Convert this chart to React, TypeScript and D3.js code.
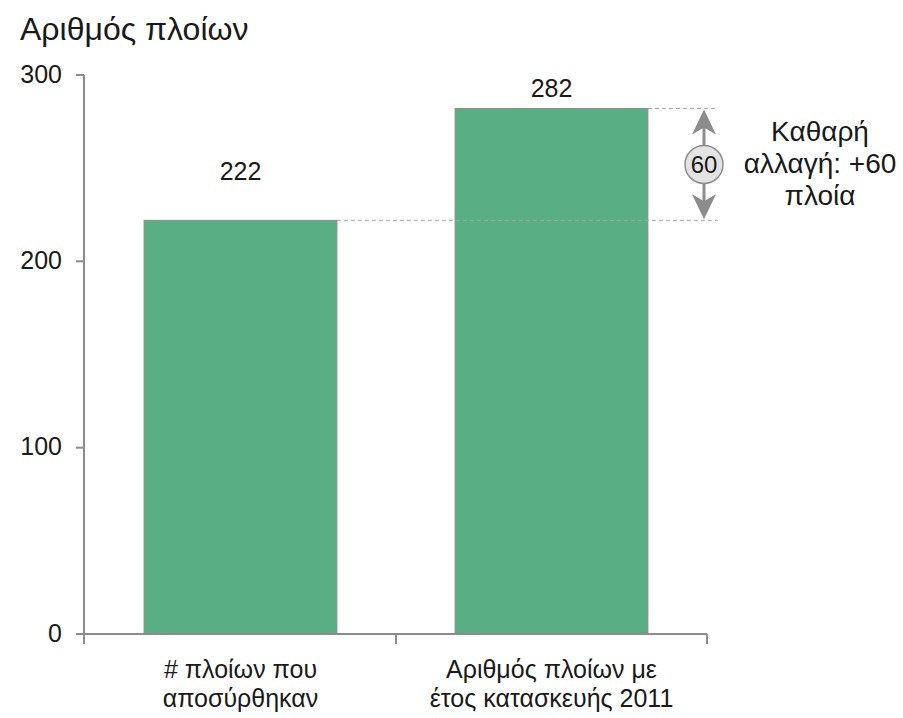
import React, { useEffect, useRef } from "react";
import * as d3 from "d3";

const categories = ["# πλοίων που|αποσύρθηκαν", "Αριθμός πλοίων με|έτος κατασκευής 2011"];
const values = [222, 282];
const yTicks = [0, 100, 200, 300];
const title = "Αριθμός πλοίων";
const noteLines = ["Καθαρή", "αλλαγή: +60", "πλοία"];

export default function App() {
  const ref = useRef<SVGSVGElement>(null);
  const width = 903;
  const height = 718;
  const font = "Liberation Sans, Arial, sans-serif";

  useEffect(() => {
    const svg = d3.select(ref.current);
    svg.selectAll("*").remove();

    const x = d3.scaleBand().domain(categories).range([85, 707]).paddingInner(0.38).paddingOuter(0.19);
    const y = d3.scaleLinear().domain([0, 300]).range([634, 75]);

    svg
      .append("text")
      .attr("x", 20)
      .attr("y", 40)
      .attr("font-size", 32)
      .attr("font-family", font)
      .attr("fill", "#1a1a1a")
      .text(title);

    // y axis
    const gy = svg.append("g").attr("transform", "translate(84,0)");
    gy.append("line").attr("y1", y(300)).attr("y2", y(0)).attr("stroke", "#8c8c8c").attr("stroke-width", 2);
    yTicks.forEach((t) => {
      gy.append("line").attr("x1", -8).attr("x2", 0).attr("y1", y(t)).attr("y2", y(t)).attr("stroke", "#8c8c8c").attr("stroke-width", 2);
      gy.append("text")
        .attr("x", -22)
        .attr("y", y(t))
        .attr("dy", "0.3em")
        .attr("text-anchor", "end")
        .attr("font-size", 25)
        .attr("font-family", font)
        .attr("fill", "#1a1a1a")
        .text(t);
    });

    // bars
    const bw = x.bandwidth();
    const labelGap = [40, 12];
    categories.forEach((c, i) => {
      svg
        .append("rect")
        .attr("x", x(c)!)
        .attr("y", y(values[i]))
        .attr("width", bw)
        .attr("height", y(0) - y(values[i]))
        .attr("fill", "#5aae84")
        .attr("stroke", "#8c8c8c")
        .attr("stroke-width", 1);
      svg
        .append("text")
        .attr("x", x(c)! + bw / 2)
        .attr("y", y(values[i]) - labelGap[i])
        .attr("text-anchor", "middle")
        .attr("font-size", 25)
        .attr("font-family", font)
        .attr("fill", "#1a1a1a")
        .text(values[i]);
    });

    // x axis
    svg.append("line").attr("x1", 84).attr("x2", 707).attr("y1", y(0)).attr("y2", y(0)).attr("stroke", "#8c8c8c").attr("stroke-width", 2);
    const edges = [84, (x(categories[0])! + bw + x(categories[1])!) / 2, 707];
    edges.forEach((e) => {
      svg.append("line").attr("x1", e).attr("x2", e).attr("y1", y(0)).attr("y2", y(0) + 10).attr("stroke", "#8c8c8c").attr("stroke-width", 2);
    });
    categories.forEach((c) => {
      c.split("|").forEach((line, j) => {
        svg
          .append("text")
          .attr("x", x(c)! + bw / 2)
          .attr("y", 678 + j * 29)
          .attr("text-anchor", "middle")
          .attr("font-size", 25)
          .attr("font-family", font)
          .attr("fill", "#1a1a1a")
          .text(line);
      });
    });

    // dashed guide lines
    const ax = 704;
    categories.forEach((c, i) => {
      svg
        .append("line")
        .attr("x1", x(c)! + bw)
        .attr("x2", ax + 14)
        .attr("y1", y(values[i]))
        .attr("y2", y(values[i]))
        .attr("stroke", "#a6a6a6")
        .attr("stroke-width", 1)
        .attr("stroke-dasharray", "4,3");
    });

    // double arrow
    const top = y(values[1]) + 1;
    const bot = y(values[0]) - 1;
    const mid = (top + bot) / 2;
    svg.append("line").attr("x1", ax).attr("x2", ax).attr("y1", top + 12).attr("y2", bot - 12).attr("stroke", "#8c8c8c").attr("stroke-width", 3);
    svg.append("path").attr("d", `M${ax},${top} L${ax - 12},${top + 25} L${ax},${top + 18} L${ax + 12},${top + 25} Z`).attr("fill", "#8c8c8c");
    svg.append("path").attr("d", `M${ax},${bot} L${ax - 12},${bot - 25} L${ax},${bot - 18} L${ax + 12},${bot - 25} Z`).attr("fill", "#8c8c8c");
    svg.append("circle").attr("cx", ax).attr("cy", mid).attr("r", 19).attr("fill", "#e3e3e3").attr("stroke", "#8c8c8c").attr("stroke-width", 1.5);
    svg
      .append("text")
      .attr("x", ax)
      .attr("y", mid)
      .attr("dy", "0.36em")
      .attr("text-anchor", "middle")
      .attr("font-size", 24)
      .attr("font-family", font)
      .attr("fill", "#1a1a1a")
      .text(values[1] - values[0]);

    noteLines.forEach((l, j) => {
      svg
        .append("text")
        .attr("x", 820)
        .attr("y", 141 + j * 32)
        .attr("text-anchor", "middle")
        .attr("font-size", 28)
        .attr("font-family", font)
        .attr("fill", "#1a1a1a")
        .text(l);
    });
  }, []);

  return (
    <svg
      ref={ref}
      width={width}
      height={height}
      style={{ position: "absolute", left: 0, top: 0, background: "#fff" }}
    ></svg>
  );
}
